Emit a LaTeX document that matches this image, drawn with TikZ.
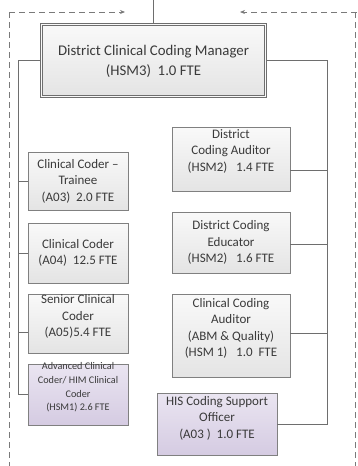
\documentclass[tikz,border=0pt]{standalone}
\usepackage{fontspec}
\setmainfont{Carlito}
\usetikzlibrary{arrows.meta}
\definecolor{bordergray}{HTML}{808080}
\definecolor{linegray}{HTML}{6E6E6E}
\definecolor{dashgray}{HTML}{7A7A7A}
\definecolor{boxtop}{HTML}{F9F9F9}
\definecolor{boxbot}{HTML}{E4E4E4}
\definecolor{purtop}{HTML}{EAE5F1}
\definecolor{purbot}{HTML}{D5CBE2}
\definecolor{textgray}{HTML}{3A3A3A}
\tikzset{
  orgbox/.style={draw=bordergray, line width=0.9pt, top color=boxtop, bottom color=boxbot,
    inner sep=0pt},
  purbox/.style={orgbox, top color=purtop, bottom color=purbot},
  boxtext/.style={align=center, inner sep=0pt, text=textgray, font=\fontsize{13}{16.5}\selectfont},
  conn/.style={draw=linegray, line width=0.8pt},
  dashline/.style={draw=dashgray, line width=0.8pt, dash pattern=on 6pt off 4pt},
}
\begin{document}
\begin{tikzpicture}[x=1pt,y=-1pt]
\useasboundingbox (0,0) rectangle (357,466);
% manager
\node[orgbox, draw=linegray, line width=1.4pt, double=boxtop, double distance=1pt,
  minimum width=224pt, minimum height=72pt] (mgr) at (153.5,60.5) {};
\node[boxtext, font=\fontsize{14.8}{20}\selectfont] (mgrt) at ([yshift=-1pt]mgr.center)
  {District Clinical Coding Manager\\(HSM3)\ \ 1.0 FTE};
% left boxes
\node[orgbox, minimum width=100pt, minimum height=58pt] (trainee) at (78,181) {};
\node[boxtext] (traineet) at (trainee.center) {Clinical Coder –\\Trainee\\(A03)\ \ 2.0 FTE};
\node[orgbox, minimum width=100pt, minimum height=60pt] (coder) at (78,253) {};
\node[boxtext] (codert) at (coder.center) {Clinical Coder\\(A04)\ \ 12.5 FTE};
\node[orgbox, minimum width=100pt, minimum height=59pt] (senior) at (78,323.5) {};
\node[boxtext] (seniort) at ([yshift=7pt]senior.center) {Senior Clinical\\Coder\\(A05)5.4 FTE};
\node[purbox, minimum width=100pt, minimum height=61pt] (adv) at (78,394.5) {};
\node[boxtext, font=\fontsize{10.2}{13.7}\selectfont] (advt) at ([yshift=7pt]adv.center)
  {Advanced Clinical\\Coder/ HIM Clinical\\Coder\\(HSM1) 2.6 FTE};
% right boxes
\node[orgbox, minimum width=118pt, minimum height=64pt] (aud) at (231,159) {};
\node[boxtext] (audt) at ([yshift=8pt]aud.center) {District\\Coding Auditor\\(HSM2)\ \ \ 1.4 FTE};
\node[orgbox, minimum width=118pt, minimum height=61pt] (edu) at (231,242.5) {};
\node[boxtext] (edut) at (edu.center) {District Coding\\Educator\\(HSM2)\ \ \ 1.6 FTE};
\node[orgbox, minimum width=118pt, minimum height=83pt] (abm) at (231,335.5) {};
\node[boxtext] (abmt) at ([yshift=7pt]abm.center)
  {Clinical Coding\\Auditor\\(ABM \& Quality)\\(HSM 1)\ \ \ 1.0\ \ FTE};
\node[purbox, minimum width=120pt, minimum height=62pt] (his) at (217,424) {};
\node[boxtext] (hist) at ([yshift=6pt]his.center)
  {HIS Coding Support\\Officer\\(A03 )\ \ 1.0 FTE};
% coordinates
\coordinate (top) at (153.5,0);
\coordinate (lbus) at (18.5,0);
\coordinate (rbus) at (327,0);
\coordinate (dl1) at (9,12);
\coordinate (dl2) at (125,12);
\coordinate (dl3) at (9,466);
\coordinate (dr1) at (355,12);
\coordinate (dr2) at (240,12);
\coordinate (dr0) at (357,12);
\coordinate (dr3) at (355,466);
% connectors
\draw[conn] (top) -- (mgr.north);
\draw[conn] (mgr.west) -| (lbus |- adv.west) -- (adv.west);
\draw[conn] (trainee.west) -- (trainee.west -| lbus);
\draw[conn] (coder.west) -- (coder.west -| lbus);
\draw[conn] ([yshift=-9pt]senior.west) -- ([yshift=-9pt]senior.west -| lbus);
\draw[conn] (mgr.east) -| (rbus |- his.east) -- (his.east);
\draw[conn] ([yshift=-11pt]aud.east) -- ([yshift=-11pt]aud.east -| rbus);
\draw[conn] ([yshift=-2pt]edu.east) -- ([yshift=-2pt]edu.east -| rbus);
\draw[conn] ([yshift=2pt]abm.east) -- ([yshift=2pt]abm.east -| rbus);
% dashed
\draw[dashline, -{Stealth[length=5pt,width=4pt]}] (dl1) -- (dl2);
\draw[dashline, -{Stealth[length=5pt,width=4pt]}] (dr0) -- (dr2);
\draw[dashline] (dl1) -- (dl3);
\draw[dashline] (dr1) -- (dr3);
\end{tikzpicture}
\end{document}
